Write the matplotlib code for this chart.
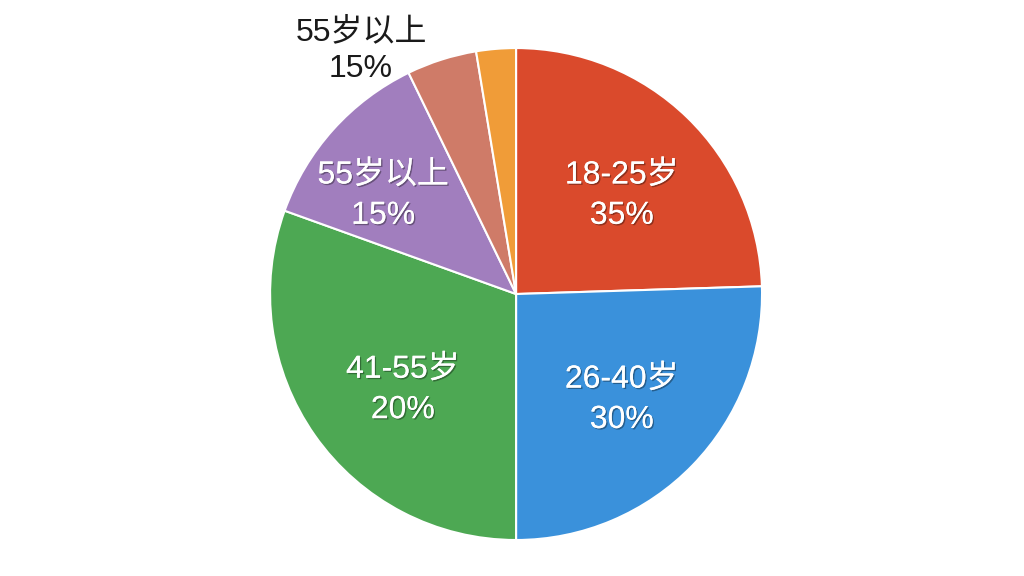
import matplotlib.pyplot as plt
import matplotlib.patheffects as pe

plt.rcParams['font.family'] = ['Liberation Sans', 'Noto Sans CJK SC', 'DejaVu Sans']

# slice sizes as drawn (percent of the circle), clockwise from 12 o'clock
sizes = [24.5, 25.5, 30.5, 12.3, 4.6, 2.6]
colors = ['#DA4A2C', '#3A91DB', '#4DA853', '#A17EBE', '#CF7B68', '#F09C38']
labels = ['18-25岁\n35%', '26-40岁\n30%', '41-55岁\n20%', '55岁以上\n15%', '', '']
outside_label = '55岁以上\n15%'

fig = plt.figure(figsize=(10.24, 5.76), dpi=100)
ax = fig.add_axes([0, 0, 1, 1])

wedges, _ = ax.pie(sizes, colors=colors, startangle=90, counterclock=False,
                   radius=1.0, wedgeprops=dict(edgecolor='white', linewidth=1.5))

shadow = [pe.withSimplePatchShadow(offset=(1, -1), shadow_rgbFace='black', alpha=0.35),
          pe.Normal()]

# label spots inside the slices (in radius units)
spots = [(0.43, 0.40), (0.43, -0.43), (-0.46, -0.39), (-0.54, 0.40)]
for (x, y), lab in zip(spots, labels):
    ax.text(x, y, lab, ha='center', va='center', fontsize=23, color='white',
            linespacing=1.45, path_effects=shadow)

ax.text(-0.63, 0.99, outside_label, ha='center', va='center', fontsize=23,
        color='#1a1a1a', linespacing=1.3)

ax.set_xlim(-2.098, 2.065)
ax.set_ylim(-1.146, 1.195)
ax.set_aspect('equal')
ax.axis('off')

fig.savefig('out.png', dpi=100, facecolor='white')
